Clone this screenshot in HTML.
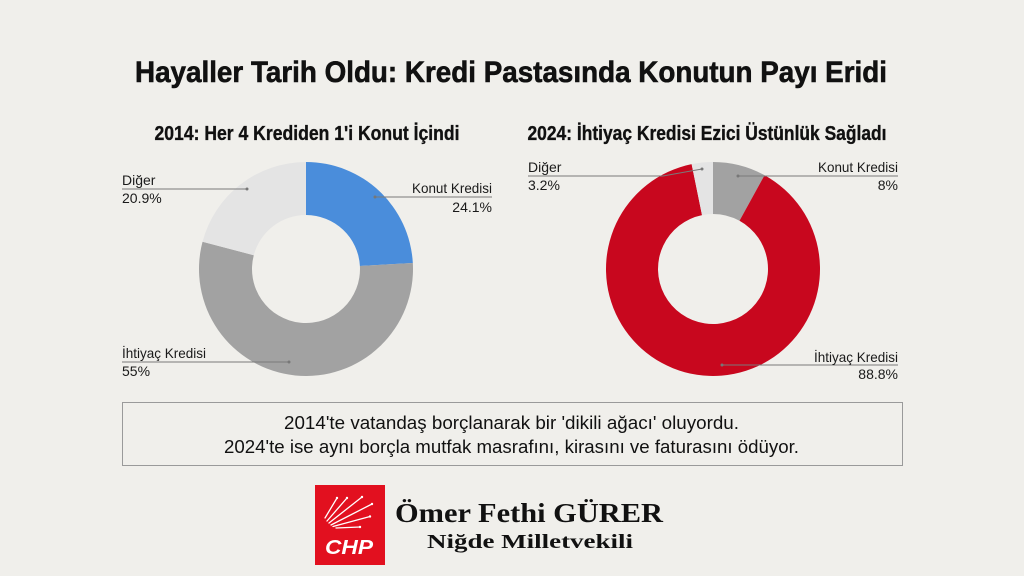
<!DOCTYPE html>
<html><head><meta charset="utf-8"><style>
html,body{margin:0;padding:0;background:#f0efeb;}
svg{display:block;}
</style></head><body>
<svg width="1024" height="576" viewBox="0 0 1024 576" xmlns="http://www.w3.org/2000/svg">
<rect width="1024" height="576" fill="#f0efeb"/>
<g font-family="Liberation Sans, sans-serif">
<text x="511" y="82" font-size="30" font-weight="bold" fill="#111" stroke="#111" stroke-width="0.6" text-anchor="middle" textLength="752" lengthAdjust="spacingAndGlyphs">Hayaller Tarih Oldu: Kredi Pastasında Konutun Payı Eridi</text>
<text x="307" y="140" font-size="20" font-weight="bold" fill="#111" stroke="#111" stroke-width="0.35" text-anchor="middle" textLength="305" lengthAdjust="spacingAndGlyphs">2014: Her 4 Krediden 1'i Konut İçindi</text>
<text x="707" y="140" font-size="20" font-weight="bold" fill="#111" stroke="#111" stroke-width="0.35" text-anchor="middle" textLength="359" lengthAdjust="spacingAndGlyphs">2024: İhtiyaç Kredisi Ezici Üstünlük Sağladı</text>

<!-- Left donut -->
<path d="M306,162 A107,107 0 0 1 412.83,262.95 L359.91,265.95 A54,54 0 0 0 306,215 Z" fill="#4a8ddb"/>
<path d="M412.83,262.95 A107,107 0 1 1 202.53,241.74 L253.78,255.24 A54,54 0 1 0 359.91,265.95 Z" fill="#a2a2a2"/>
<path d="M202.53,241.74 A107,107 0 0 1 306,162 L306,215 A54,54 0 0 0 253.78,255.24 Z" fill="#e4e4e4"/>

<!-- Right donut -->
<path d="M713,162 A107,107 0 0 1 764.55,175.23 L739.5,220.8 A55,55 0 0 0 713,214 Z" fill="#a2a2a2"/>
<path d="M764.55,175.23 A107,107 0 1 1 691.63,164.15 L702.02,215.11 A55,55 0 1 0 739.5,220.8 Z" fill="#c8071e"/>
<path d="M691.63,164.15 A107,107 0 0 1 713,162 L713,214 A55,55 0 0 0 702.02,215.11 Z" fill="#e4e4e4"/>

<!-- leader lines -->
<g stroke="#7a7a7a" stroke-width="1" fill="none">
<polyline points="122,189 247,189"/>
<polyline points="375,197 492,197"/>
<polyline points="122,362 289,362"/>
<polyline points="528,176 663,176 702,169"/>
<polyline points="738,176 898,176"/>
<polyline points="722,365 898,365"/>
</g>
<g fill="#777">
<circle cx="247" cy="189" r="1.5"/><circle cx="375" cy="197" r="1.5"/><circle cx="289" cy="362" r="1.5"/>
<circle cx="702" cy="169" r="1.5"/><circle cx="738" cy="176" r="1.5"/><circle cx="722" cy="365" r="1.5"/>
</g>

<g font-size="14" fill="#1a1a1a">
<text x="122" y="185">Diğer</text>
<text x="122" y="203">20.9%</text>
<text x="492" y="193" text-anchor="end" textLength="80" lengthAdjust="spacingAndGlyphs">Konut Kredisi</text>
<text x="492" y="212" text-anchor="end">24.1%</text>
<text x="122" y="358" textLength="84" lengthAdjust="spacingAndGlyphs">İhtiyaç Kredisi</text>
<text x="122" y="376">55%</text>
<text x="528" y="172">Diğer</text>
<text x="528" y="190">3.2%</text>
<text x="898" y="172" text-anchor="end" textLength="80" lengthAdjust="spacingAndGlyphs">Konut Kredisi</text>
<text x="898" y="190" text-anchor="end">8%</text>
<text x="898" y="362" text-anchor="end" textLength="84" lengthAdjust="spacingAndGlyphs">İhtiyaç Kredisi</text>
<text x="898" y="379" text-anchor="end">88.8%</text>
</g>

<!-- box -->
<rect x="122.5" y="402.5" width="780" height="63" fill="none" stroke="#9a9a9a" stroke-width="1"/>
<text x="511.5" y="429" font-size="18" fill="#111" text-anchor="middle" textLength="455" lengthAdjust="spacingAndGlyphs">2014'te vatandaş borçlanarak bir 'dikili ağacı' oluyordu.</text>
<text x="511.5" y="453" font-size="18" fill="#111" text-anchor="middle" textLength="575" lengthAdjust="spacingAndGlyphs">2024'te ise aynı borçla mutfak masrafını, kirasını ve faturasını ödüyor.</text>
</g>

<!-- CHP logo -->
<rect x="315" y="485" width="70" height="80" fill="#e2101f"/>
<g stroke="#fff" stroke-width="1.3" fill="none" stroke-linecap="round">
<line x1="325" y1="518" x2="337" y2="498"/>
<line x1="327" y1="521" x2="347" y2="498"/>
<line x1="329" y1="523" x2="362" y2="497"/>
<line x1="331" y1="525" x2="372" y2="504"/>
<line x1="333" y1="526.5" x2="370" y2="516.5"/>
<line x1="336" y1="528" x2="360" y2="527"/>
</g>
<g fill="#fff">
<circle cx="337" cy="498" r="1.2"/><circle cx="347" cy="498" r="1.2"/><circle cx="362" cy="497" r="1.2"/>
<circle cx="372" cy="504" r="1.2"/><circle cx="370" cy="516.5" r="1.2"/><circle cx="360" cy="527" r="1.2"/>
</g>
<text x="349" y="554" font-family="Liberation Sans, sans-serif" font-size="20" font-weight="bold" font-style="italic" fill="#fff" text-anchor="middle" textLength="48" lengthAdjust="spacingAndGlyphs">CHP</text>

<g font-family="Liberation Serif, serif" font-weight="bold" fill="#111">
<text x="395" y="522" font-size="27" textLength="268" lengthAdjust="spacingAndGlyphs">Ömer Fethi GÜRER</text>
<text x="427" y="548" font-size="20" textLength="206" lengthAdjust="spacingAndGlyphs">Niğde Milletvekili</text>
</g>
</svg>
</body></html>
